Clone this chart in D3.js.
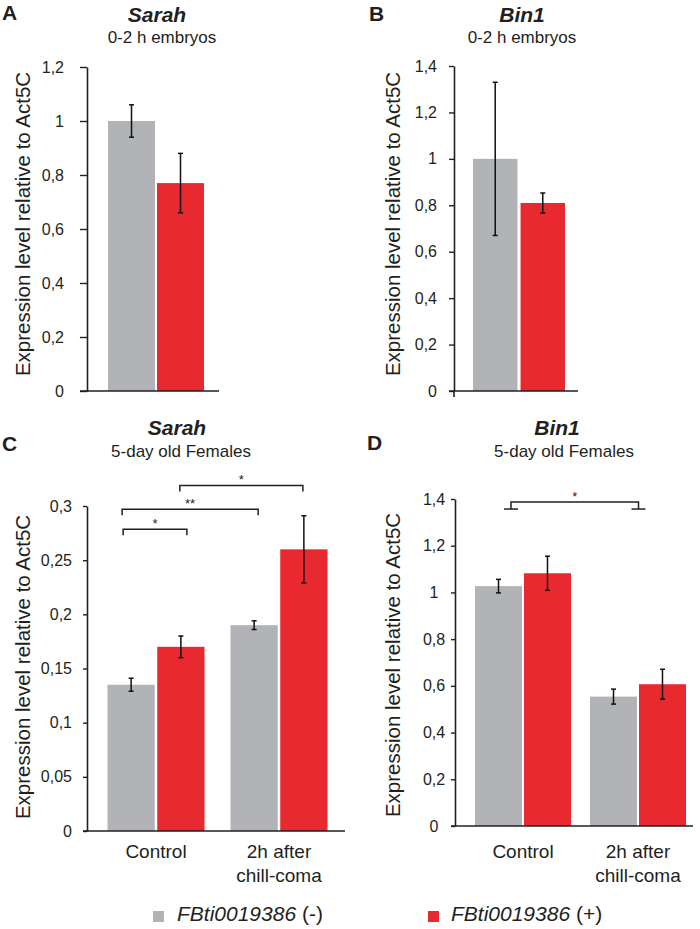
<!DOCTYPE html>
<html><head><meta charset="utf-8">
<script src="https://cdn.jsdelivr.net/npm/d3@7"></script>
<style>
body{margin:0;background:#fff}
svg{display:block}
text{font-family:"Liberation Sans",Arial,Helvetica,sans-serif;fill:#231f20}
</style>
</head><body>
<svg id="chart" width="700" height="929"></svg>
<script>
// ---------------- DATA ----------------
const seriesKeys = ["minus", "plus"];
const legendName = "FBti0019386";
const legendSuffix = [" (-)", " (+)"];
const yTitle = "Expression level relative to Act5C";

const aGene = "Sarah", aStage = "0-2 h embryos";
const aGroups = [[""]];
const aMinus = [1.00], aMinusErr = [0.06];
const aPlus = [0.77], aPlusErr = [0.11];
const aTicks = [0, 0.2, 0.4, 0.6, 0.8, 1.0, 1.2];

const bGene = "Bin1", bStage = "0-2 h embryos";
const bGroups = [[""]];
const bMinus = [1.00], bMinusErr = [0.33];
const bPlus = [0.81], bPlusErr = [0.043];
const bTicks = [0, 0.2, 0.4, 0.6, 0.8, 1.0, 1.2, 1.4];

const cGene = "Sarah", cStage = "5-day old Females";
const cGroups = [["Control"], ["2h after", "chill-coma"]];
const cMinus = [0.135, 0.19], cMinusErr = [0.006, 0.004];
const cPlus = [0.17, 0.26], cPlusErr = [0.01, 0.031];
const cTicks = [0, 0.05, 0.1, 0.15, 0.2, 0.25, 0.3];
// significance brackets: [group, series] -> [group, series], bracket level (data units), label
const cSig = [
  {from: [0, 0], to: [0, 1], level: 0.2785, label: "*"},
  {from: [0, 0], to: [1, 0], level: 0.297, label: "**"},
  {from: [0, 1], to: [1, 1], level: 0.319, label: "*"}
];

const dGene = "Bin1", dStage = "5-day old Females";
const dGroups = [["Control"], ["2h after", "chill-coma"]];
const dMinus = [1.027, 0.554], dMinusErr = [0.029, 0.032];
const dPlus = [1.082, 0.607], dPlusErr = [0.073, 0.064];
const dTicks = [0, 0.2, 0.4, 0.6, 0.8, 1.0, 1.2, 1.4];
const dSig = [
  {from: [0, 0], to: [1, 0], level: 1.387, label: "*"}
];

// ---------------- STYLE / LAYOUT ----------------
const GRAY = "#b1b3b6", RED = "#e8292f", INK = "#231f20";
const colors = {minus: GRAY, plus: RED};
const svg = d3.select("#chart");
const fmt = v => d3.format(".2~f")(v).replace(".", ",");

function drawPanel(p) {
  const g = svg.append("g");
  const y = d3.scaleLinear().domain([0, p.ticks[p.ticks.length - 1]]).range([p.y0, p.y1]);
  const x = d3.scalePoint().domain(p.groups.map((d, i) => i)).range(p.centers).padding(0);
  const xs = d3.scaleBand().domain(seriesKeys).range([-p.half, p.half]).paddingInner(p.gap);

  const rows = [];
  p.groups.forEach((grp, i) => {
    seriesKeys.forEach(k => rows.push({gi: i, k, v: p.values[k][i], e: p.errors[k][i]}));
  });

  // bars
  g.selectAll("rect.bar").data(rows).join("rect")
    .attr("x", d => x(d.gi) + xs(d.k))
    .attr("width", xs.bandwidth())
    .attr("y", d => y(d.v))
    .attr("height", d => y(0) - y(d.v))
    .attr("fill", d => colors[d.k]);

  // error bars
  const eb = g.selectAll("g.err").data(rows).join("g")
    .attr("transform", d => `translate(${x(d.gi) + xs(d.k) + xs.bandwidth() / 2},0)`)
    .attr("stroke", "#111").attr("stroke-width", 1.5);
  eb.append("line").attr("y1", d => y(d.v + d.e)).attr("y2", d => y(d.v - d.e));
  eb.append("line").attr("x1", -2.5).attr("x2", 2.5).attr("y1", d => y(d.v + d.e)).attr("y2", d => y(d.v + d.e));
  eb.append("line").attr("x1", -2.5).attr("x2", 2.5).attr("y1", d => y(d.v - d.e)).attr("y2", d => y(d.v - d.e));

  // y axis
  const ax = g.append("g").attr("transform", `translate(${p.axisX},0)`)
    .call(d3.axisLeft(y).tickValues(p.ticks).tickFormat(fmt).tickSize(p.tickLen).tickSizeOuter(0).tickPadding(p.pad));
  ax.select(".domain").attr("stroke", INK).attr("stroke-width", 1.6);
  ax.selectAll(".tick line").attr("stroke", INK).attr("stroke-width", 1.4);
  ax.selectAll(".tick text").attr("font-size", 16).attr("fill", "#333")
    .attr("font-family", "Liberation Sans, Arial, sans-serif");
  if (p.labelCenter !== undefined) {
    ax.selectAll(".tick text").attr("text-anchor", "middle").attr("x", p.labelCenter);
  }
  if (p.extend) {
    g.append("line").attr("x1", p.axisX).attr("x2", p.axisX).attr("y1", y(0)).attr("y2", y(0) + p.extend)
      .attr("stroke", INK).attr("stroke-width", 1.6);
  }
  // x axis line
  g.append("line").attr("x1", p.xAxis[0]).attr("x2", p.xAxis[1]).attr("y1", y(0)).attr("y2", y(0))
    .attr("stroke", INK).attr("stroke-width", 1.6);

  // category labels
  p.groups.forEach((lines, i) => {
    const t = g.append("text").attr("text-anchor", "middle").attr("font-size", 19);
    lines.forEach((ln, j) => {
      if (ln) t.append("tspan").attr("x", x(i)).attr("y", p.catY + j * 24).text(ln);
    });
  });

  // significance brackets
  (p.sig || []).forEach(s => {
    const cx = ([gi, k]) => x(gi) + xs(seriesKeys[k]) + xs.bandwidth() / 2;
    const x1 = cx(s.from) + (s.dx ? s.dx[0] : 0), x2 = cx(s.to) + (s.dx ? s.dx[1] : 0);
    const yl = y(s.level);
    const bg = g.append("g").attr("stroke", INK).attr("stroke-width", 1.5).attr("fill", "none");
    bg.append("path").attr("d", `M${x1},${yl + p.leg}V${yl}H${x2}V${yl + p.leg}`);
    if (p.feet) {
      bg.append("line").attr("x1", x1 - 7).attr("x2", x1 + 7).attr("y1", yl + p.leg).attr("y2", yl + p.leg);
      bg.append("line").attr("x1", x2 - 7).attr("x2", x2 + 7).attr("y1", yl + p.leg).attr("y2", yl + p.leg);
    }
    g.append("text").attr("x", (x1 + x2) / 2).attr("y", yl - 1).attr("text-anchor", "middle")
      .attr("font-size", 13).attr("fill", "#333").text(s.label);
  });

  // titles
  g.append("text").attr("x", p.letter[0]).attr("y", p.letter[1]).attr("font-size", 21)
    .attr("font-weight", "bold").text(p.letterText);
  g.append("text").attr("x", p.title[0]).attr("y", p.title[1]).attr("text-anchor", "middle")
    .attr("font-size", 21).attr("font-weight", "bold").attr("font-style", "italic").text(p.gene);
  g.append("text").attr("x", p.sub[0]).attr("y", p.sub[1]).attr("text-anchor", "middle")
    .attr("font-size", 17).text(p.stage);
  g.append("text").attr("transform", `translate(${p.yt[0]},${p.yt[1]}) rotate(-90)`)
    .attr("text-anchor", "middle").attr("font-size", 20.5).text(yTitle);
}

drawPanel({
  gene: aGene, stage: aStage, groups: aGroups, ticks: aTicks,
  values: {minus: aMinus, plus: aPlus}, errors: {minus: aMinusErr, plus: aPlusErr},
  axisX: 87, y0: 391, y1: 67, xAxis: [80, 219], centers: [156, 156], half: 48, gap: 0.04,
  tickLen: 7, pad: 16, letterText: "A", letter: [2, 20], title: [157, 22], sub: [162, 43],
  yt: [30, 224], catY: 420
});
drawPanel({
  gene: bGene, stage: bStage, groups: bGroups, ticks: bTicks,
  values: {minus: bMinus, plus: bPlus}, errors: {minus: bMinusErr, plus: bPlusErr},
  axisX: 454, y0: 391, y1: 66, xAxis: [449, 578], centers: [519, 519], half: 46, gap: 0.065,
  tickLen: 5, pad: 12, letterText: "B", letter: [369, 21], title: [522, 22], sub: [522, 43],
  yt: [400, 224], catY: 420, extend: 6
});
drawPanel({
  gene: cGene, stage: cStage, groups: cGroups, ticks: cTicks,
  values: {minus: cMinus, plus: cPlus}, errors: {minus: cMinusErr, plus: cPlusErr},
  sig: cSig.map((s, i) => Object.assign({dx: [[-8, 6], [-9, 4], [-1, -1]][i]}, s)), leg: 6,
  axisX: 87, y0: 831, y1: 506, xAxis: [83, 345], centers: [156, 279], half: 48.5, gap: 0.05,
  tickLen: 4, pad: 11, letterText: "C", letter: [2, 451], title: [177, 435], sub: [181, 457],
  yt: [30, 667], catY: 858
});
drawPanel({
  gene: dGene, stage: dStage, groups: dGroups, ticks: dTicks,
  values: {minus: dMinus, plus: dPlus}, errors: {minus: dMinusErr, plus: dPlusErr},
  sig: dSig.map(s => Object.assign({dx: [12.5, 25]}, s)), leg: 7, feet: true,
  axisX: 455, y0: 826, y1: 499, xAxis: [451, 693], centers: [523, 638], half: 48, gap: 0.04,
  tickLen: 4, pad: 8, labelCenter: -21, letterText: "D", letter: [367, 450], title: [557, 435], sub: [564, 457],
  yt: [400, 665], catY: 858
});

// legend
const legendPos = [[153, 177], [428, 451]];
seriesKeys.forEach((k, i) => {
  svg.append("rect").attr("x", legendPos[i][0]).attr("y", 911).attr("width", 11).attr("height", 11)
    .attr("fill", colors[k]);
  const t = svg.append("text").attr("x", legendPos[i][1]).attr("y", 921).attr("font-size", 21);
  t.append("tspan").attr("font-style", "italic").text(legendName);
  t.append("tspan").attr("font-size", i === 1 ? 21 : 21).text(legendSuffix[i]);
});
</script>
</body></html>
